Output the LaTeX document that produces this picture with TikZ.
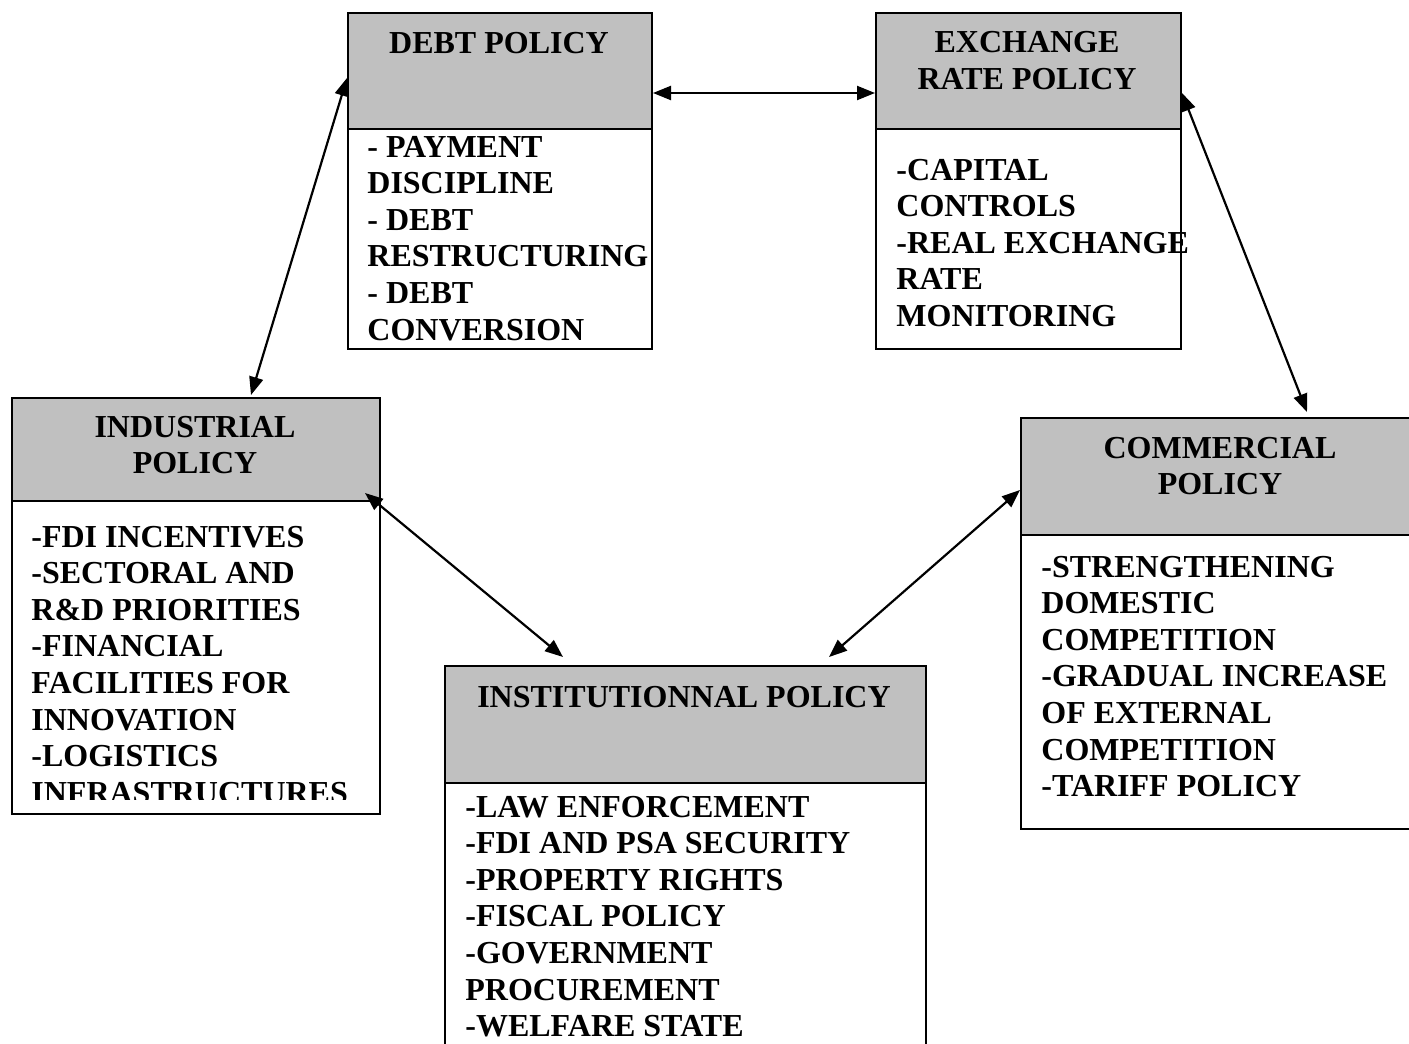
\documentclass[tikz,border=0pt]{standalone}
\usepackage{fontspec}
\setmainfont{Liberation Serif}
\usetikzlibrary{arrows.meta}
\definecolor{hdrgray}{HTML}{C0C0C0}
\newcommand\myctext[1]{\begin{tabular}[t]{@{}c@{}}#1\end{tabular}}
\newcommand\myltext[1]{\begin{tabular}[t]{@{}l@{}}#1\end{tabular}}
\begin{document}
\begin{tikzpicture}[x=0.5pt,y=-0.5pt,
  hdr/.style={draw=black, line width=1pt, fill=hdrgray, inner sep=0pt, anchor=north west},
  bodybox/.style={draw=black, line width=1pt, fill=white, inner sep=0pt, anchor=north west},
  ttl/.style={font=\fontsize{16}{18.3}\selectfont\bfseries, inner sep=0pt, anchor=base},
  itm/.style={font=\fontsize{16}{18.3}\selectfont\bfseries, inner sep=0pt, anchor=base west},
  link/.style={{Triangle[length=9pt,width=7pt]}-{Triangle[length=9pt,width=7pt]}, line width=1.1pt}]
\clip (0,0) rectangle (1409,1044);
\fill[white] (0,0) rectangle (1409,1044);
% DEBT POLICY
\node[bodybox, minimum width=152pt, minimum height=110pt] (debtB) at (347,128) {};
\node[hdr, minimum width=152pt, minimum height=58pt] (debtH) at (347,12) {};
\node[ttl] (debtT) at (499,54) {\myctext{DEBT POLICY}};
\node[itm] (debtI) at (367,157) {\myltext{- PAYMENT\\DISCIPLINE\\- DEBT\\RESTRUCTURING\\- DEBT\\CONVERSION}};
% EXCHANGE RATE POLICY
\node[bodybox, minimum width=152.5pt, minimum height=110pt] (exB) at (875,128) {};
\node[hdr, minimum width=152.5pt, minimum height=58pt] (exH) at (875,12) {};
\node[ttl] (exT) at (1027,53) {\myctext{EXCHANGE\\RATE POLICY}};
\node[itm] (exI) at (896,180) {\myltext{-CAPITAL\\CONTROLS\\-REAL EXCHANGE\\RATE\\MONITORING}};
% INDUSTRIAL POLICY
\node[bodybox, minimum width=184pt, minimum height=156.5pt] (indB) at (11,500) {};
\node[hdr, minimum width=184pt, minimum height=51.5pt] (indH) at (11,397) {};
\node[ttl] (indT) at (195,437) {\myctext{INDUSTRIAL\\POLICY}};
\begin{scope}
\clip (11,397) rectangle (379,799);
\node[itm] (indI) at (31,547) {\myltext{-FDI INCENTIVES\\-SECTORAL AND\\R\&D PRIORITIES\\-FINANCIAL\\FACILITIES FOR\\INNOVATION\\-LOGISTICS\\INFRASTRUCTURES}};
\end{scope}
% COMMERCIAL POLICY
\node[bodybox, minimum width=210pt, minimum height=147pt] (comB) at (1020,534) {};
\node[hdr, minimum width=210pt, minimum height=58.5pt] (comH) at (1020,417) {};
\node[ttl] (comT) at (1220,458) {\myctext{COMMERCIAL\\POLICY}};
\node[itm] (comI) at (1041,577) {\myltext{-STRENGTHENING\\DOMESTIC\\COMPETITION\\-GRADUAL INCREASE\\OF EXTERNAL\\COMPETITION\\-TARIFF POLICY}};
% INSTITUTIONNAL POLICY
\node[bodybox, minimum width=240.5pt, minimum height=150pt] (insB) at (444,782) {};
\node[hdr, minimum width=240.5pt, minimum height=58.5pt] (insH) at (444,665) {};
\node[ttl] (insT) at (684,707) {\myctext{INSTITUTIONNAL POLICY}};
\node[itm] (insI) at (465,817) {\myltext{-LAW ENFORCEMENT\\-FDI AND PSA SECURITY\\-PROPERTY RIGHTS\\-FISCAL POLICY\\-GOVERNMENT\\PROCUREMENT\\-WELFARE STATE}};
% connectors
\coordinate (indTop) at (251,395);
\coordinate (indCorner) at (365,493);
\coordinate (comTop) at (1307,412);
\coordinate (insL) at (563,657);
\coordinate (insR) at (829,657);
\draw[link] (debtH.east |- 0,93) -- (exH.west |- 0,93);
\draw[link] (debtH.west |- 0,78) -- (indTop);
\draw[link] (exH.east |- 0,93) -- (comTop);
\draw[link] (indCorner) -- (insL);
\draw[link] (comH.west |- 0,490) -- (insR);
\end{tikzpicture}
\end{document}
